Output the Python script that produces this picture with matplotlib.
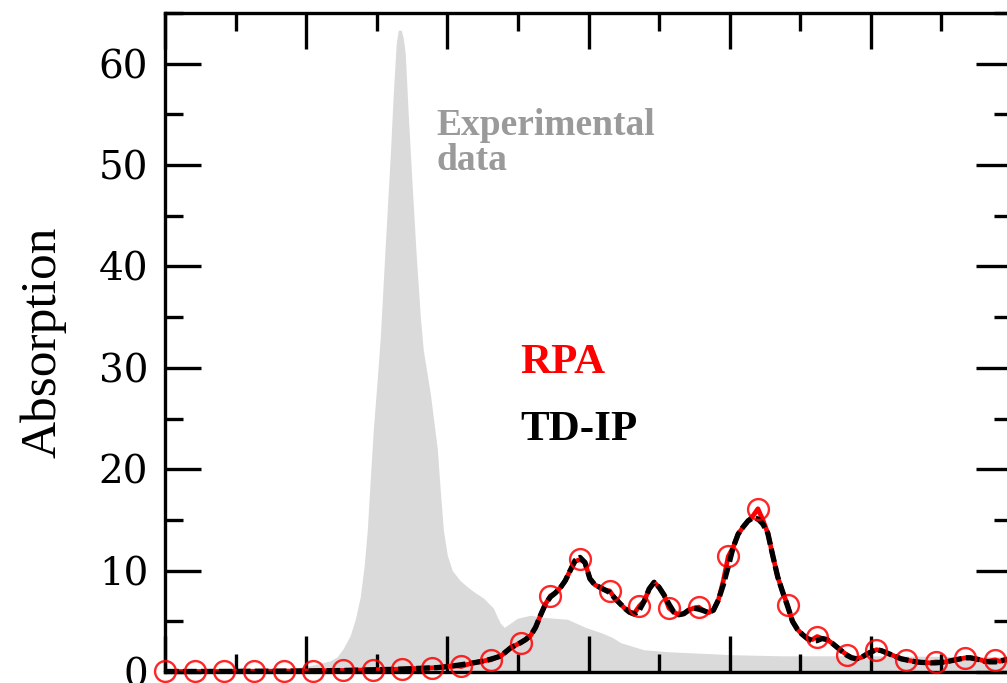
import numpy as np
import matplotlib.pyplot as plt
from matplotlib.ticker import MultipleLocator

plt.rcParams['font.family'] = ['Liberation Serif', 'DejaVu Serif']

# experimental spectrum (filled grey area)
exp_x = [0.000, 0.887, 1.050, 1.170, 1.220, 1.262, 1.312, 1.348, 1.383, 1.411,
         1.433, 1.454, 1.475, 1.504, 1.525, 1.560, 1.596, 1.617, 1.638, 1.652,
         1.674, 1.688, 1.702, 1.723, 1.752, 1.780, 1.809, 1.830, 1.879, 1.929,
         1.950, 1.972, 2.000, 2.035, 2.092, 2.142, 2.199, 2.255, 2.291,
         2.326, 2.355, 2.376, 2.404, 2.496, 2.589, 2.674, 2.851, 2.979, 3.085,
         3.170, 3.227, 3.390, 3.560, 4.028, 4.362, 4.929, 6.000]
exp_y = [0.0, 0.3, 0.7, 1.1, 1.5, 2.3, 3.6, 5.2, 7.4, 10.5,
         14.0, 19.0, 23.8, 29.0, 33.0, 42.0, 51.0, 57.0, 62.0, 63.3,
         63.3, 62.5, 61.0, 55.0, 47.7, 41.0, 35.0, 31.7, 27.5, 22.0,
         17.9, 14.0, 11.5, 10.0, 9.0, 8.4, 7.8, 7.3, 6.8,
         6.3, 5.4, 4.8, 4.4, 5.3, 5.6, 5.4, 5.2, 4.4, 3.9,
         3.4, 2.9, 2.2, 2.0, 1.7, 1.6, 1.6, 1.5]

# calculated spectra on a common energy grid
step = 0.035
tdip = [0.05, 0.05, 0.05, 0.05, 0.05, 0.05, 0.05, 0.05, 0.05, 0.05,
        0.06, 0.06, 0.06, 0.06, 0.06, 0.07, 0.07, 0.07, 0.07, 0.08,
        0.08, 0.08, 0.08, 0.09, 0.09, 0.09, 0.10, 0.10, 0.10, 0.11,
        0.11, 0.12, 0.12, 0.13, 0.13, 0.14, 0.15, 0.16, 0.17, 0.18,
        0.19, 0.20, 0.21, 0.22, 0.24, 0.25, 0.26, 0.27, 0.29, 0.30,
        0.32, 0.34, 0.36, 0.38, 0.40, 0.43, 0.47, 0.52, 0.58, 0.65,
        0.72, 0.79, 0.87, 0.95, 1.04, 1.14, 1.28, 1.42, 1.58, 2.00,
        2.40, 2.65, 2.90, 3.20, 3.60, 4.40, 5.60, 6.70, 7.40, 7.80,
        8.30, 9.00, 10.0, 11.0, 11.3, 10.8, 9.20, 8.60, 8.35, 8.10,
        7.85, 7.30, 6.80, 6.30, 5.90, 5.70, 6.10, 7.00, 8.20, 8.85,
        8.35, 7.60, 6.70, 5.90, 5.65, 5.75, 6.10, 6.30, 6.20, 6.05,
        5.85, 6.10, 7.10, 8.60, 10.4, 12.3, 13.6, 14.3, 14.9, 15.2,
        15.1, 14.6, 13.7, 11.5, 9.40, 7.90, 6.50, 5.00, 4.20, 3.70,
        3.30, 3.05, 3.10, 3.30, 3.20, 2.85, 2.45, 2.05, 1.65, 1.40,
        1.30, 1.45, 1.75, 2.00, 2.20, 2.10, 1.90, 1.70, 1.50, 1.30,
        1.20, 1.10, 1.00, 0.95, 0.92, 0.90, 0.90, 0.95, 1.00, 1.10,
        1.20, 1.30, 1.40, 1.40, 1.30, 1.20, 1.05, 1.00, 1.00, 1.05,
        1.20, 1.30, 1.30]
rpa = [0.05, 0.05, 0.05, 0.05, 0.05, 0.05, 0.05, 0.05, 0.05, 0.05,
       0.06, 0.06, 0.06, 0.06, 0.06, 0.07, 0.07, 0.07, 0.07, 0.08,
       0.08, 0.08, 0.08, 0.09, 0.09, 0.09, 0.10, 0.10, 0.10, 0.11,
       0.11, 0.12, 0.12, 0.13, 0.13, 0.14, 0.15, 0.16, 0.17, 0.18,
       0.19, 0.20, 0.21, 0.22, 0.24, 0.25, 0.26, 0.27, 0.29, 0.30,
       0.32, 0.34, 0.36, 0.38, 0.40, 0.43, 0.47, 0.52, 0.58, 0.60,
       0.55, 0.72, 0.85, 0.95, 1.04, 1.14, 1.20, 1.42, 1.58, 2.00,
       2.40, 2.65, 2.90, 3.20, 3.60, 4.40, 5.60, 6.70, 7.50, 7.80,
       8.30, 9.00, 10.0, 10.9, 11.1, 10.8, 9.20, 8.60, 8.35, 8.10,
       8.00, 7.30, 6.80, 6.30, 5.90, 5.80, 6.50, 7.00, 8.20, 8.85,
       8.35, 7.60, 6.30, 5.90, 5.65, 5.75, 6.10, 6.30, 6.40, 6.05,
       5.85, 6.10, 7.10, 9.00, 11.4, 12.3, 13.6, 14.3, 14.9, 15.4,
       16.1, 15.0, 13.7, 11.5, 9.40, 7.90, 6.60, 5.00, 4.20, 3.70,
       3.30, 3.20, 3.50, 3.30, 3.20, 2.85, 2.45, 2.05, 1.70, 1.40,
       1.30, 1.45, 1.75, 2.00, 2.20, 2.10, 1.90, 1.70, 1.50, 1.30,
       1.20, 1.10, 1.00, 0.95, 0.92, 0.90, 1.00, 0.95, 1.00, 1.10,
       1.20, 1.30, 1.40, 1.40, 1.30, 1.20, 1.05, 1.10, 1.20, 1.05,
       1.20, 1.30, 1.30]
x = np.arange(len(tdip)) * step

fig = plt.figure(figsize=(10.07, 6.83), dpi=100)
ax = fig.add_axes([165 / 1007, 11 / 683, 847 / 1007, 659 / 683])

ax.fill_between(exp_x, exp_y, 0, color='#dadada', lw=0, zorder=1)

ax.plot(x, rpa, color='red', lw=3.4, zorder=2)
ax.plot(x, tdip, color='black', lw=3.8, ls=(0, (2.6, 0.8)), zorder=3)
ax.plot(x[::6], np.array(rpa)[::6], ls='none', marker='o', ms=15,
        mfc='none', mec='red', mew=1.7, alpha=0.85, zorder=4, clip_on=False)

ax.text(1.92, 52.2, 'Experimental\ndata', color='#9a9a9a', fontsize=27,
        fontweight='bold', va='center', linespacing=1.0)
ax.text(2.52, 30.5, 'RPA', color='red', fontsize=31, fontweight='bold', va='center')
ax.text(2.52, 23.9, 'TD-IP', color='black', fontsize=31, fontweight='bold', va='center')

ax.set_xlim(0, 6)
ax.set_ylim(0, 65)
ax.xaxis.set_major_locator(MultipleLocator(1))
ax.xaxis.set_minor_locator(MultipleLocator(0.5))
ax.yaxis.set_major_locator(MultipleLocator(10))
ax.yaxis.set_minor_locator(MultipleLocator(5))
ax.tick_params(which='both', direction='in', top=True, right=True, width=2.4,
               labelsize=28, pad=12)
ax.tick_params(which='major', length=26)
ax.tick_params(which='minor', length=13)
ax.set_xticklabels([])
for lbl in ax.get_yticklabels():
    lbl.set_fontfamily('DejaVu Serif')
for s in ax.spines.values():
    s.set_linewidth(2.4)
ax.set_ylabel('Absorption', fontsize=37)
ax.yaxis.set_label_coords(-0.116, 0.5)

fig.savefig('out.png', dpi=100)
